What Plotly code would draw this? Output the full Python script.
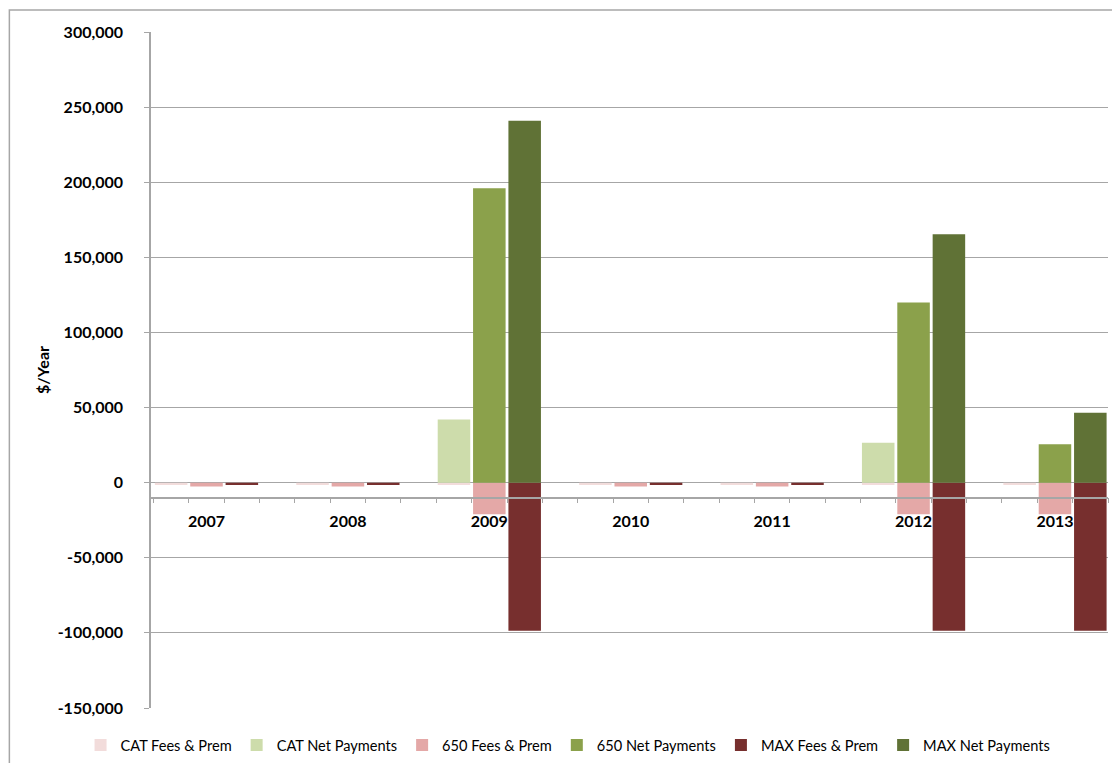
import plotly.graph_objects as go

years = ["2007", "2008", "2009", "2010", "2011", "2012", "2013"]
cat_fees = [-1500, -1500, -1500, -1500, -1500, -1500, -1500]
cat_net = [0, 0, 42000, 0, 0, 26500, 0]
p650_fees = [-2500, -2500, -21000, -2500, -2500, -21000, -21000]
p650_net = [0, 0, 196000, 0, 0, 120000, 25500]
max_fees = [-1500, -1500, -98500, -1500, -1500, -98500, -98500]
max_net = [0, 0, 241000, 0, 0, 165300, 46500]
y_ticks = [-150000, -100000, -50000, 0, 50000, 100000, 150000, 200000, 250000, 300000]
y_labels = ["-150,000", "-100,000", "-50,000", "0", "50,000", "100,000",
            "150,000", "200,000", "250,000", "300,000"]

series = [
    ("CAT Fees & Prem", cat_fees, 0, "#F2DCDB"),
    ("CAT Net Payments", cat_net, 0, "#CDDCAB"),
    ("650 Fees & Prem", p650_fees, 1, "#E4A8A7"),
    ("650 Net Payments", p650_net, 1, "#8BA14B"),
    ("MAX Fees & Prem", max_fees, 2, "#772F2E"),
    ("MAX Net Payments", max_net, 2, "#607236"),
]

FONT = "Lato"
GRID = "#A6A6A6"

# page body has an 8px margin: figure coordinates = screen - 8
W, H = 1104, 755
L, R, T, B = 142.5, 3.7, 24, 55
PW, PH = W - L - R, H - T - B

fig = go.Figure()
for name, vals, slot, color in series:
    xs = [4 * i + slot + 0.5 for i in range(len(years))]
    fig.add_trace(go.Bar(
        x=xs, y=vals, name=name, width=0.92,
        marker=dict(color=color, line=dict(width=0)),
        xaxis="x", yaxis="y",
    ))

# dummy trace for xaxis2 so its labels render
fig.add_trace(go.Scatter(x=[0, 27], y=[None, None], xaxis="x2", yaxis="y",
                         showlegend=False, hoverinfo="skip", mode="markers"))

axis_pos = (-10000 - (-150000)) / 450000

fig.update_layout(
    width=W, height=H,
    margin=dict(l=L, r=R, t=T, b=B, autoexpand=False),
    paper_bgcolor="white", plot_bgcolor="white",
    barmode="overlay",
    font=dict(family=FONT, color="#000000"),
    showlegend=True,
    legend=dict(
        orientation="h", x=(72 - L) / PW, xanchor="left",
        y=(PH - (737 - T)) / PH, yanchor="middle",
        font=dict(family=FONT, size=14.6, color="#000000"),
        itemwidth=30, traceorder="normal",
    ),
    xaxis=dict(
        range=[-0.07, 27], tickvals=list(range(0, 28)),
        showticklabels=False, ticks="outside", ticklen=5, tickcolor=GRID, tickwidth=1.3,
        showline=True, linecolor=GRID, linewidth=1.5,
        showgrid=False, zeroline=False, automargin=False,
        anchor="free", position=axis_pos, layer="above traces",
    ),
    xaxis2=dict(
        overlaying="x", matches="x", anchor="free", position=axis_pos, side="bottom",
        tickvals=[4 * i + 1.5 for i in range(len(years))], ticktext=years,
        ticks="", showline=False, showgrid=False, zeroline=False, automargin=False,
        ticklabelstandoff=12,
        tickfont=dict(family=FONT, size=16, color="#000000", weight="bold"),
    ),
    yaxis=dict(
        range=[-150000, 300000], tickvals=y_ticks, ticktext=y_labels,
        showline=True, linecolor=GRID, linewidth=1.5,
        ticks="outside", ticklen=5, tickcolor=GRID,
        showgrid=True, gridcolor=GRID, gridwidth=1.3,
        zeroline=True, zerolinecolor=GRID, zerolinewidth=1.3,
        automargin=False, ticklabelstandoff=18,
        tickfont=dict(family=FONT, size=16, color="#000000", weight="bold"),
        title=dict(text="$/Year", standoff=4,
                   font=dict(family=FONT, size=16, color="#000000", weight="bold")),
    ),
    shapes=[dict(type="rect", xref="paper", yref="paper",
                 x0=(0.75 - L) / PW, x1=1.05, y0=-0.3, y1=(PH + T - 2) / PH,
                 line=dict(color=GRID, width=1.5), fillcolor="rgba(0,0,0,0)", layer="below")],
)

fig.write_html("out.html")
